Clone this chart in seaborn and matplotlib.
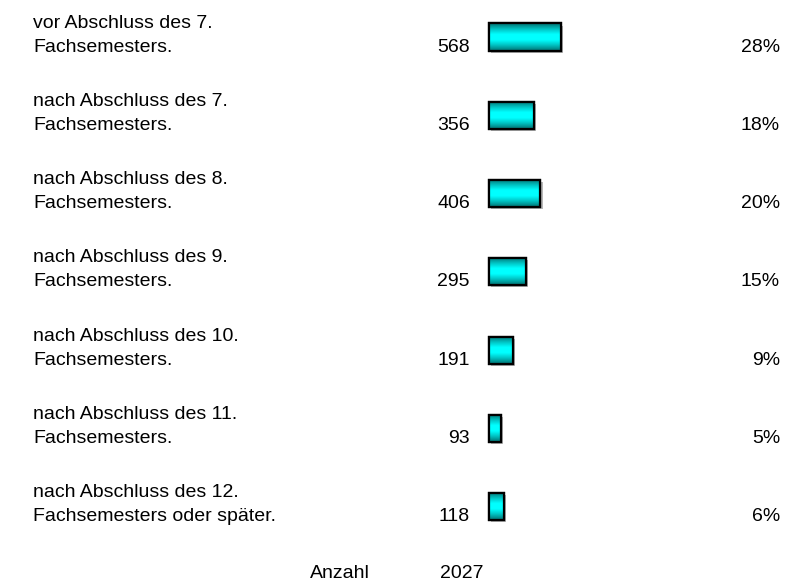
import numpy as np
import pandas as pd
import matplotlib
matplotlib.use("Agg")
import matplotlib.pyplot as plt
import seaborn as sns
from matplotlib.colors import LinearSegmentedColormap
from matplotlib.patches import Rectangle
import matplotlib.transforms as mtransforms
import matplotlib.patheffects as pe

categories = [
    "vor Abschluss des 7.\nFachsemesters.",
    "nach Abschluss des 7.\nFachsemesters.",
    "nach Abschluss des 8.\nFachsemesters.",
    "nach Abschluss des 9.\nFachsemesters.",
    "nach Abschluss des 10.\nFachsemesters.",
    "nach Abschluss des 11.\nFachsemesters.",
    "nach Abschluss des 12.\nFachsemesters oder später.",
]
counts = [568, 356, 406, 295, 191, 93, 118]
percents = ["28%", "18%", "20%", "15%", "9%", "5%", "6%"]
total_label = "Anzahl"
total_value = 2027

sns.set_theme(style="white")
plt.rcParams["font.family"] = ["Liberation Sans", "DejaVu Sans"]

W, H = 786, 584
fig = plt.figure(figsize=(W / 100, H / 100), dpi=100)
fig.patch.set_facecolor("white")
ax = fig.add_axes([0, 0, 1, 1])

df = pd.DataFrame({"cat": categories, "n": counts})
sns.barplot(data=df, x="n", y="cat", orient="h", color="#00FFFF",
            width=0.345, edgecolor="black", linewidth=1.6, ax=ax)

# geometry
bar_x0 = 489.0
k = 568 / 72.0  # units per pixel
pitch = 78.3
c0 = 37.0
xlim = (-bar_x0 * k, (W - bar_x0) * k)
ylim = ((H - c0) / pitch, -c0 / pitch)

# gradient fill of bars
cmap = LinearSegmentedColormap.from_list(
    "cy", ["#007070", "#00c0c0", "#00ffff", "#00ffff", "#00c0c0", "#007070"])
grad = np.linspace(0, 1, 64).reshape(-1, 1)
for p in list(ax.patches):
    x0, y0 = p.get_x(), p.get_y()
    w, h = p.get_width(), p.get_height()
    p.set_path_effects([pe.SimplePatchShadow(offset=(1.5, -1.5), shadow_rgbFace="#b8b8b8", alpha=1.0),
                        pe.Normal()])
    im = ax.imshow(grad, extent=[x0, x0 + w, y0 + h, y0], aspect="auto",
                   cmap=cmap, zorder=p.get_zorder() + 0.1, interpolation="bilinear")
    im.set_clip_path(p)
    ax.add_patch(Rectangle((x0, y0), w, h, fill=False, edgecolor="black",
                           linewidth=1.6, zorder=p.get_zorder() + 0.2))

ax.set_xlim(*xlim)
ax.set_ylim(*ylim)
ax.axis("off")

tr = mtransforms.blended_transform_factory(fig.transFigure, ax.transData)
fs = 14
for i, (lab, n, pc) in enumerate(zip(categories, counts, percents)):
    l1, l2 = lab.split("\n")
    y1 = i - 14 / pitch
    y2 = i + 10 / pitch
    ax.text(33 / W, y1, l1, transform=tr, ha="left", va="center", fontsize=fs, color="black")
    ax.text(33 / W, y2, l2, transform=tr, ha="left", va="center", fontsize=fs, color="black")
    ax.text(470 / W, y2, f"{n}", transform=tr, ha="right", va="center", fontsize=fs, color="black")
    ax.text(780 / W, y2, pc, transform=tr, ha="right", va="center", fontsize=fs, color="black")

fig.text(340 / W, 1 - 574 / H, total_label, ha="center", va="center", fontsize=fs, color="black")
fig.text(462 / W, 1 - 574 / H, f"{total_value}", ha="center", va="center", fontsize=fs, color="black")

fig.savefig("out.png", dpi=100, facecolor="white")
